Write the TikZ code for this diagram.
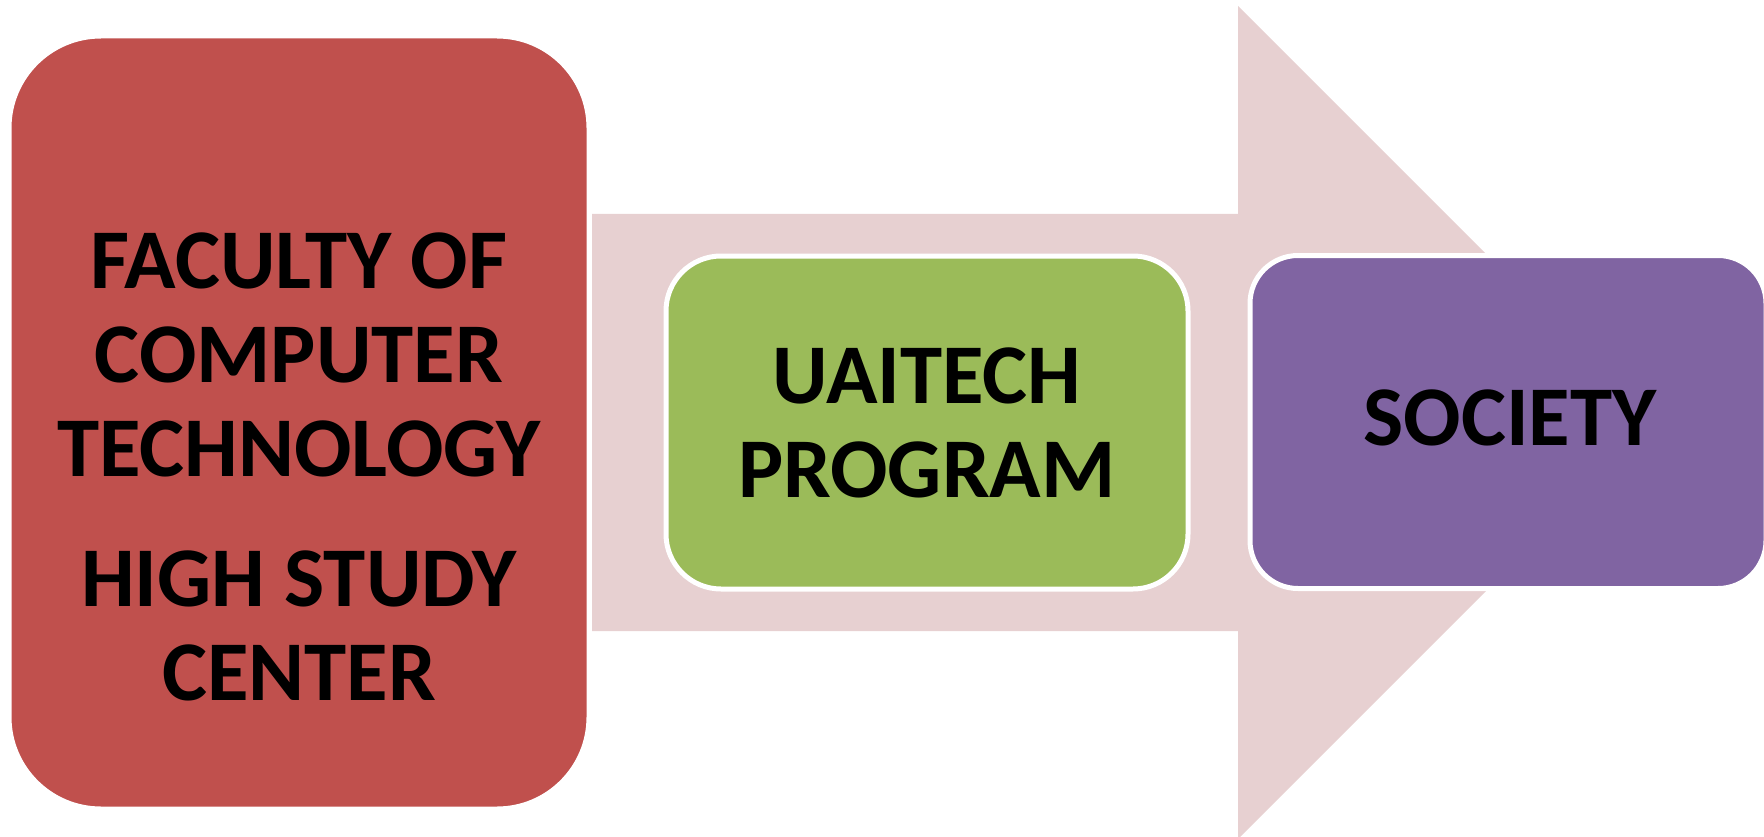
\documentclass[tikz,border=0pt]{standalone}
\usepackage{fontspec}
\setmainfont{Carlito}
\definecolor{facred}{HTML}{C0504D}
\definecolor{proggreen}{HTML}{9BBB59}
\definecolor{socpurple}{HTML}{8064A2}
\definecolor{arrowpink}{HTML}{E7D0D1}
\begin{document}
\begin{tikzpicture}[x=1pt,y=-1pt,
  box/.style={draw=white, line width=5pt, rectangle, inner sep=0pt, outer sep=0pt},
  lbl/.style={font=\bfseries\fontsize{85}{94}\selectfont, align=center, inner sep=0pt, anchor=north, text=black}]
\useasboundingbox (0,0) rectangle (1764,837);
% big background arrow
\coordinate (sl) at (592,214);
\coordinate (tip) at (1654.5,422.5);
\fill[arrowpink] (sl) -- (1238,214) -- (1238,6) -- (tip) -- (1238,839) -- (1238,631) -- (592,631) -- cycle;
% boxes
\node[box, fill=facred, rounded corners=92pt, minimum width=580pt, minimum height=773pt] (fac) at (299,422.5) {};
\node[box, fill=proggreen, rounded corners=55pt, minimum width=522pt, minimum height=333pt] (prog) at (927,422.5) {};
\node[box, fill=socpurple, rounded corners=48pt, minimum width=516pt, minimum height=333pt] (soc) at (1508,422) {};
% texts
\node[lbl] (factext) at (299,232.5) {FACULTY OF\\COMPUTER\\TECHNOLOGY\\[36pt]HIGH STUDY\\CENTER};
\node[lbl] (progtext) at (927,347.5) {UAITECH\\PROGRAM};
\node[lbl] (soctext) at (1510,390) {SOCIETY};
\end{tikzpicture}
\end{document}
